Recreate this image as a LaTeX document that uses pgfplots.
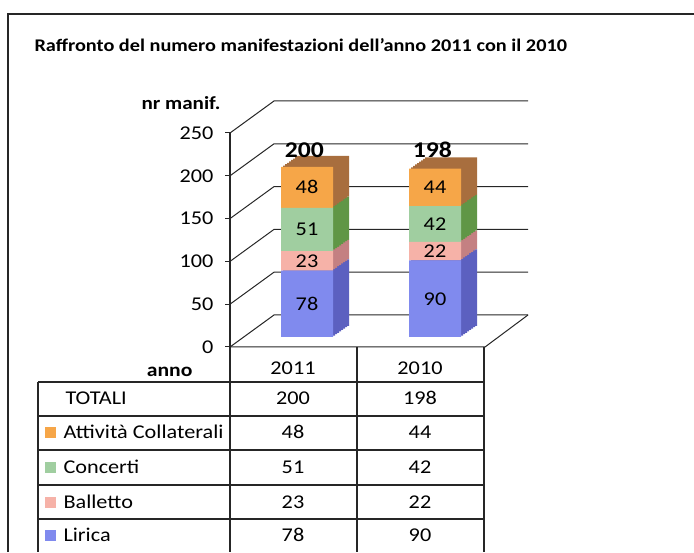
\documentclass[border=0pt]{standalone}
\usepackage{fontspec}
\setmainfont{Carlito}[FakeStretch=1.14]
\usepackage{pgfplots}
\pgfplotsset{compat=1.18}
\definecolor{lirF}{RGB}{128,138,238}
\definecolor{lirS}{RGB}{92,96,192}
\definecolor{balF}{RGB}{246,178,168}
\definecolor{balS}{RGB}{196,128,130}
\definecolor{conF}{RGB}{160,206,160}
\definecolor{conS}{RGB}{96,150,70}
\definecolor{attF}{RGB}{246,166,72}
\definecolor{attS}{RGB}{168,110,62}
\pgfplotsset{
  barax/.style={ybar stacked, x=128pt, y=0.85pt, xmin=-0.6, xmax=1.6, ymin=0, ymax=250,
    bar width=52pt, axis lines=none, clip=false, anchor=south west,
    xtick=\empty, ytick=\empty}
}
\tikzset{fs/.style={font=\fontsize{19.5}{22}\selectfont}}
\begin{document}
\begin{tikzpicture}
% pixel-coordinate decorations
\begin{scope}[x=1pt,y=-1pt,shift={(0pt,552pt)}]
\path[use as bounding box] (0,0) rectangle (694,552);
\draw[line width=1.6pt, black!85] (8,552) -- (8,14) -- (694,14);
\node[anchor=west, font=\fontsize{17.8}{20}\selectfont\bfseries] at (31,45) {Raffronto del numero manifestazioni dell'anno 2011 con il 2010};
\node[font=\fontsize{18.5}{20}\selectfont\bfseries] at (181,103) {nr manif.};
\node[anchor=east, font=\fontsize{19}{20}\selectfont\bfseries] at (196,372) {anno};
% table
\begin{scope}[line width=1.3pt, black!85]
\draw (230,347) -- (230,552);
\draw (357,347) -- (357,552);
\draw (484,347) -- (484,552);
\draw (38,382) -- (38,552);
\foreach \yy in {382,416,450,485,519} \draw (38,\yy) -- (484,\yy);
\end{scope}
\fill[attF] (45,427) rectangle (56,438);
\fill[conF] (45,462) rectangle (56,473);
\fill[balF] (45,497) rectangle (56,508);
\fill[lirF] (45,530) rectangle (56,541);
\node[fs] at (293,368) {2011};
\node[fs] at (420,368) {2010};
\node[fs, anchor=west] at (62,398) {TOTALI};
\node[fs, anchor=west] at (60,432) {Attività Collaterali};
\node[fs, anchor=west] at (60,467) {Concerti};
\node[fs, anchor=west] at (60,502) {Balletto};
\node[fs, anchor=west] at (60,535) {Lirica};
\node[fs] at (293,398) {200}; \node[fs] at (420,398) {198};
\node[fs] at (293,432) {48};  \node[fs] at (420,432) {44};
\node[fs] at (293,467) {51};  \node[fs] at (420,467) {42};
\node[fs] at (293,502) {23};  \node[fs] at (420,502) {22};
\node[fs] at (293,535) {78};  \node[fs] at (420,535) {90};
\end{scope}

% front frame axis with ticks and 3D grid
\begin{axis}[at={(230pt,205pt)}, anchor=south west, scale only axis, width=255pt, height=214pt,
  xmin=0, xmax=1, ymin=0, ymax=250, axis x line=none, axis y line*=left,
  ytick={0,50,...,250}, tick align=outside, major tick length=5pt,
  axis line style={black!85, line width=1.1pt}, tick style={black!85, line width=1pt},
  yticklabel style={font=\fontsize{19.5}{22}\selectfont, xshift=-8pt, /pgf/number format/assume math mode=true},
  clip=false]
\addplot[draw=none] coordinates {(0,0)};
\pgfplotsinvokeforeach{0,50,100,150,200,250}{
  \draw[black!85, line width=1pt] (axis cs:0,#1) -- ++(44pt,32pt) -- ++(254pt,0pt);
}
\draw[black!85, line width=1pt] (axis cs:0,0) -- (axis cs:1,0) -- ++(43pt,32pt);
\end{axis}

% depth copies of the bars
\foreach \k in {8,7,...,1}{
\begin{axis}[barax, at={({(230.2+2*\k)*1pt},{(215+1.4*\k)*1pt})}]
\addplot[fill=lirS, draw=none] coordinates {(0,78) (1,90)};
\addplot[fill=balS, draw=none] coordinates {(0,23) (1,22)};
\addplot[fill=conS, draw=none] coordinates {(0,51) (1,42)};
\addplot[fill=attS, draw=none] coordinates {(0,48) (1,44)};
\end{axis}
}
% front faces
\begin{axis}[barax, at={(230.2pt,215pt)}]
\addplot[fill=lirF, draw=none] coordinates {(0,78) (1,90)};
\addplot[fill=balF, draw=none] coordinates {(0,23) (1,22)};
\addplot[fill=conF, draw=none] coordinates {(0,51) (1,42)};
\addplot[fill=attF, draw=none] coordinates {(0,48) (1,44)};
\end{axis}
% data labels
\begin{axis}[x=128pt, y=0.85pt, xmin=-0.6, xmax=1.6, ymin=0, ymax=250, axis lines=none,
  anchor=south west, at={(230.2pt,215pt)}, clip=false, xtick=\empty, ytick=\empty,
  point meta=explicit symbolic]
\addplot[draw=none, mark=none, nodes near coords, nodes near coords align={center},
  every node near coord/.append style={font=\fontsize{19.5}{22}\selectfont}]
  coordinates {(0,39)[78] (0,89.5)[23] (0,126.5)[51] (0,176)[48]
               (1,45)[90] (1,101)[22] (1,133)[42] (1,176)[44]};
\addplot[draw=none, mark=none, nodes near coords, nodes near coords align={center},
  every node near coord/.append style={font=\fontsize{22.5}{24}\selectfont\bfseries}]
  coordinates {(-0.02,220)[200] (0.98,220)[198]};
\end{axis}
\end{tikzpicture}
\end{document}
